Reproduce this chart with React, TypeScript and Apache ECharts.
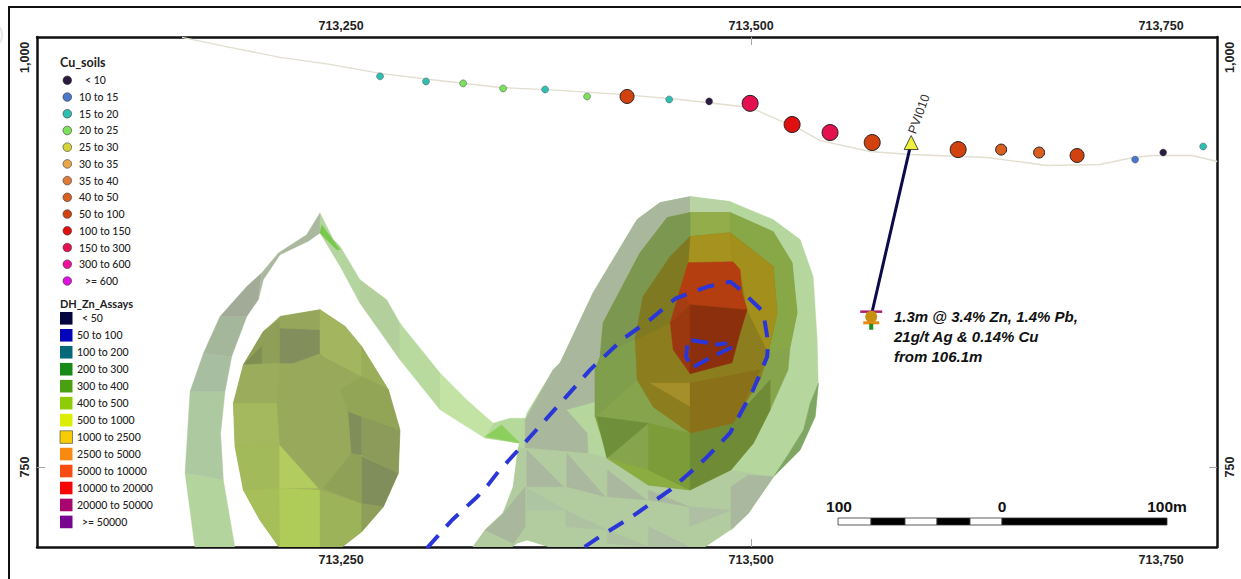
import React, { useEffect, useRef } from "react";
import * as echarts from "echarts";

// Map grid: axes are mine-grid easting / RL. Shapes below are read in a local grid (easting - offset).
const EAST_OFFSET = 712990.8;
const EAST_SCALE = 1.0197;
const xMin = 713064.6;
const xMax = 713784.1;
const yMin = 701.2;
const yMax = 1012.4;
const xTicks = [713250, 713500, 713750];
const yTicks = [750, 1000];
const xMarkedTicks = [713500];
const yMarkedTicks = [750];

const cuClasses = ["< 10", "10 to 15", "15 to 20", "20 to 25", "25 to 30", "30 to 35", "35 to 40", "40 to 50", "50 to 100", "100 to 150", "150 to 300", "300 to 600", ">= 600"];
const cuBreaks = [10, 15, 20, 25, 30, 35, 40, 50, 100, 150, 300, 600];
const cuColors = ["#2a1a3e", "#4a77c9", "#2fbfb0", "#7de05a", "#d4d43a", "#e8a84a", "#dd7a3a", "#d95f20", "#d2420e", "#e01010", "#e5104f", "#f010a0", "#e010e0"];
const znClasses = ["< 50", "50 to 100", "100 to 200", "200 to 300", "300 to 400", "400 to 500", "500 to 1000", "1000 to 2500", "2500 to 5000", "5000 to 10000", "10000 to 20000", "20000 to 50000", ">= 50000"];
const znColors = ["#04043f", "#0404b8", "#05697a", "#188a18", "#4aa010", "#8fcc05", "#dcee05", "#f8cc05", "#f88a10", "#f84c10", "#f80505", "#a8056e", "#78058f"];

const soilEast = [277.5, 305, 327.2, 351.1, 376.2, 401.3, 425.2, 450.4, 474.3, 498.8, 523.9, 546.6, 571.8, 623.2, 648.9, 671.6, 694.3, 729, 745.8, 769.7];
const soilNorth = [988.4, 985.3, 984.1, 981, 980.4, 976.1, 976.1, 974.3, 973.1, 971.9, 959, 954.1, 948, 943.7, 943.7, 941.9, 940.1, 937.6, 941.9, 945.6];
const soilCu = [17, 17, 22, 22, 17, 22, 65, 17, 8, 200, 120, 220, 85, 80, 45, 42, 65, 12, 7, 17];

const surface = [[159.1, 1012.2], [187.8, 1006.1], [217.7, 1000], [247.6, 995.7], [277.5, 990.2], [307.4, 986.5], [349.3, 981.6], [385.2, 979.8], [421.1, 977.4], [456.9, 974.3], [498.8, 969.4], [528.7, 956], [540.7, 949.2], [570.6, 942.5], [594.5, 940.7], [640.5, 938.9], [676.4, 934], [708.1, 934.6], [727.8, 938.9], [739.8, 940.1], [763.1, 940.1], [778.1, 936.4]];

const holeTrace = [[595.1, 948], [571.2, 842.3]];
const holeIntervals = [[571.2, 844.8, 11], [571.2, 841.7, 7], [571.2, 838, 8], [571.2, 835.6, 3]];

const outerDomain = [[305.6, 700.6], [320.6, 717.7], [335.5, 731.7], [342.1, 739.1], [348.1, 747], [361.3, 761.7], [388.2, 792.2], [403.1, 809.3], [422.9, 828.3], [439, 839.9], [454, 852.7], [473.1, 860], [486.8, 863.1], [491.6, 859.4], [506.6, 844.8], [509.6, 825.8], [509, 817.3], [500.6, 797.1], [486.8, 770.8], [473.1, 756.2], [464.7, 748.2], [451, 736], [427, 718.9], [410.3, 708.5], [398.9, 700.6]];
const innerDomain = [[473.7, 825.8], [461.7, 827.7], [460.5, 817.3], [464.1, 810.6], [474.9, 816.7], [488.6, 823.4], [486.8, 825.8], [477.9, 824.6]];

const ribbonPolys = [
  [[166.9, 700.3], [160.9, 746.2], [183.8, 742.1], [190.8, 700.3]],
  [[160.9, 746.2], [163.9, 796.1], [184.8, 796.1], [182.2, 770.6], [183.8, 742.1]],
  [[163.9, 796.1], [171.9, 819.5], [188.8, 817.5], [184.8, 796.1]],
  [[171.9, 819.5], [181.8, 841.9], [197.8, 841.9], [188.8, 817.5]],
  [[181.8, 841.9], [197.8, 860.2], [206.7, 868.4], [204.7, 852.1], [197.8, 841.9]],
  [[206.7, 868.4], [216.7, 880.6], [233.6, 891.8], [241.6, 905], [241.6, 892.8], [234.6, 887.7], [217.7, 879.6], [207.7, 864.3], [204.7, 852.1]],
  [[241.6, 905], [249.6, 888.8], [253.6, 884.7], [265.5, 864.3], [265.5, 850], [253.6, 872.5], [241.6, 892.8]],
  [[265.5, 864.3], [281.5, 852.1], [289.4, 837.8], [289.4, 815.4], [265.5, 850]],
  [[289.4, 837.8], [313.4, 807.3], [313.4, 784.9], [289.4, 815.4]],
  [[313.4, 807.3], [329.3, 791], [345.2, 776.7], [340.3, 767.6], [313.4, 784.9]],
  [[340.3, 767.6], [345.2, 776.7], [355.2, 779.8], [365.2, 779.8], [365.2, 766.5], [361.2, 764.5]],
  [[340.3, 768.6], [350.2, 775.7], [361.2, 764.5]],
  [[242.6, 897.9], [253.6, 882.6], [251.6, 882.6], [241.6, 892.8]],
];
const ribbonColors = ["#b3d49d", "#adc9a0", "#a7bea0", "#a4b79a", "#a2ab98", "#abb8a0", "#b5d5a0", "#b3d09c", "#b9da9e", "#c3e3a5", "#b5d99a", "#8ccf5c", "#78c84a"];

const ellipsePolys = [
  [[241.6, 846], [256.6, 835.8], [266.5, 823.6], [282.5, 797.1], [289.4, 772.6], [288.4, 746.2], [279.5, 725.8], [266.5, 710.5], [253.6, 700.3], [217.7, 700.3], [205.7, 717.6], [195.8, 736], [190.8, 762.5], [189.8, 788.9], [195.8, 812.4], [207.7, 832.7], [217.7, 841.9]],
  [[217.3, 834.8], [241.6, 833.8], [241.6, 819.5], [225.7, 813.4], [217.3, 813.4]],
  [[217.7, 841.9], [241.6, 846], [241.6, 833.8], [217.3, 834.8]],
  [[195.8, 812.4], [207.7, 832.7], [217.3, 839.9], [217.3, 813.4], [206.7, 812.4]],
  [[195.8, 812.4], [206.7, 823.6], [206.7, 812.4]],
  [[189.8, 788.9], [195.8, 812.4], [217.3, 813.4], [215.7, 788.9]],
  [[190.8, 762.5], [189.8, 788.9], [215.7, 788.9], [217.3, 763.5]],
  [[195.8, 736], [190.8, 762.5], [217.3, 763.5], [217.3, 737]],
  [[195.8, 736], [217.3, 737], [217.7, 700.3], [205.7, 717.6]],
  [[217.3, 737], [241.6, 736], [241.6, 700.3], [217.7, 700.3]],
  [[217.3, 763.5], [240.6, 737], [217.3, 737]],
  [[241.6, 736], [266.5, 727.8], [266.5, 710.5], [253.6, 700.3], [241.6, 700.3]],
  [[266.5, 756.4], [288.4, 746.2], [279.5, 725.8], [266.5, 727.8]],
  [[266.5, 727.8], [279.5, 725.8], [266.5, 710.5]],
  [[243.6, 737], [260.5, 758.4], [266.5, 756.4], [266.5, 727.8]],
  [[258.5, 783.9], [266.5, 780.8], [266.5, 757.4], [260.5, 758.4]],
  [[266.5, 780.8], [289.4, 772.6], [288.4, 746.2], [266.5, 757.4]],
  [[241.6, 846], [256.6, 835.8], [266.5, 823.6], [266.5, 805.2], [243.6, 817.5], [241.6, 819.5]],
  [[266.5, 823.6], [282.5, 797.1], [266.5, 805.2]],
  [[266.5, 805.2], [282.5, 797.1], [289.4, 772.6], [266.5, 780.8], [258.5, 783.9], [253.6, 797.1]],
];
const ellipseColors = ["#98a95c", "#828f5c", "#96a65a", "#8f9f58", "#7f8e52", "#9bad5c", "#a4b95d", "#a3ba5a", "#a6bf58", "#b0cc58", "#b3cc5f", "#9cb35a", "#7f8e5a", "#8f9e58", "#8fa157", "#7f8e5a", "#8c9a5a", "#a3b55e", "#9aad58", "#92a556"];

const shellPolys = [
  [[360.1, 761.7], [364.3, 778.8], [365.4, 783.1], [381, 809.3], [385.2, 813.6], [404.9, 856.4], [431.2, 901], [445, 911.4], [462.9, 915], [486.8, 912], [512.6, 901], [528.7, 888.8], [536.5, 866.2], [538.9, 827.7], [539.5, 801.4], [537.7, 780.6], [528.7, 760.4], [512.6, 744], [497.6, 722], [486.8, 711.6], [470.7, 700.6], [381, 700.6], [365.4, 705.5], [359.5, 703.6], [355.3, 700.6], [332.6, 700.6], [340.3, 711.6], [351.1, 722], [357.1, 737.8]],
  [[360.1, 761.7], [401.9, 758.6], [413.9, 755.6], [437.8, 739.1], [462.9, 736], [486.8, 748.2], [512.6, 744], [497.6, 722], [486.8, 711.6], [470.7, 700.6], [381, 700.6], [365.4, 705.5], [359.5, 703.6], [355.3, 700.6], [332.6, 700.6], [340.3, 711.6], [351.1, 722], [357.1, 737.8]],
  [[364.3, 778.8], [381, 809.3], [385.2, 813.6], [404.9, 856.4], [431.2, 901], [445, 911.4], [462.9, 915], [462.9, 905.3], [449.2, 902.2], [433, 880.8], [410.9, 838], [409.1, 817.3], [406.1, 809.3], [406.1, 789.8], [388.8, 784.9], [401.3, 770.8], [401.9, 758.6], [364.3, 761.7]],
  [[462.9, 915], [486.8, 912], [486.8, 905.3], [462.9, 905.3]],
  [[365.3, 760.4], [387.2, 738], [365.3, 738]],
  [[389.2, 758.4], [412.1, 731.9], [389.2, 738]],
  [[413.5, 748.2], [437, 729.9], [413.5, 731.9]],
  [[438, 736], [462.5, 725.8], [438, 729.9]],
  [[365.3, 737], [388.6, 723.7], [365.3, 723.7]],
  [[388.6, 723.7], [413.5, 711.5], [388.6, 713.6]],
  [[340.4, 711.5], [351.3, 721.7], [364.3, 738], [364.3, 713.6], [357.3, 703.4]],
  [[487.4, 738], [497.8, 745.1], [512.8, 744], [497.8, 721.7], [487.4, 711.5]],
  [[462.5, 725.8], [487.4, 723.7], [462.5, 713.6]],
  [[413.5, 711.5], [438, 701.3], [413.5, 703.4]],
  [[438, 713.6], [462.5, 701.3], [438, 701.3]],
  [[539.7, 801.2], [537.7, 780.8], [528.7, 760.4], [512.8, 744.1], [520.7, 756.3], [530.7, 772.6], [534.7, 788.9]],
];
const shellColors = ["#b5d69d", "#b2cca0", "#a9b79d", "#b9d3a5", "#a9b89e", "#a9b89e", "#a9b89e", "#a9b89e", "#aec5a3", "#aec2a2", "#a9b79d", "#a9b89e", "#aebfa3", "#aec2a2", "#aebfa3", "#7fa662"];

const middlePolys = [
  [[449.2, 902.2], [462.9, 905.3], [486.8, 905.3], [512.6, 893.6], [523.9, 874.7], [526.9, 844.2], [522.7, 823.4], [521.5, 809.3], [510.8, 784.9], [500.6, 764.7], [486.8, 748.2], [462.9, 736], [437.8, 739.1], [413.9, 755.6], [406.1, 780.6], [406.1, 809.3], [409.1, 817.3], [410.9, 838], [433, 880.8]],
  [[462.9, 905.3], [486.8, 905.3], [486.8, 893], [462.9, 890.6]],
  [[410.9, 838], [433, 880.8], [449.2, 902.2], [462.9, 905.3], [462.9, 890.6], [451, 878.4], [434.8, 853.9], [430, 827.7], [409.1, 817.3]],
  [[409.1, 817.3], [430, 827.7], [431.2, 803.2], [406.1, 780.6], [406.1, 809.3]],
  [[407.1, 780.8], [438, 776.7], [413.1, 755.3]],
  [[413.1, 755.3], [438, 748.2], [462.9, 736], [438, 739]],
  [[438, 776.7], [462.9, 770.6], [462.9, 736], [438, 748.2]],
  [[462.9, 770.6], [490.8, 780.8], [510.8, 803.2], [510.8, 784.9], [500.8, 764.5], [487.4, 748.2], [462.9, 736]],
  [[486.8, 905.3], [512.6, 893.6], [523.9, 874.7], [526.9, 844.2], [522.7, 823.4], [509.6, 819.7], [514.9, 844.2], [512.6, 872.3], [486.8, 893]],
];
const middleColors = ["#86a44c", "#92ad4a", "#7b9750", "#7f9f4c", "#6f8f3a", "#8aac40", "#7c9c3a", "#6f8b35", "#88a847"];

const innerPolys = [
  [[462.9, 890.6], [486.8, 893], [512.6, 872.3], [514.9, 844.2], [509.6, 819.7], [504.8, 803.2], [488.6, 776.9], [462.9, 770.8], [440.8, 786.7], [431.2, 803.2], [430, 827.7], [434.8, 853.9], [451, 878.4]],
  [[462.9, 890.6], [486.8, 893], [488.6, 875.3], [461.7, 874.7]],
  [[434.8, 853.9], [451, 878.4], [462.9, 890.6], [461.7, 874.7], [456.9, 858.2], [451, 838], [430, 827.7]],
  [[486.8, 893], [512.6, 872.3], [514.9, 844.2], [509.6, 819.7], [497, 846], [492.8, 870.4], [488.6, 875.3]],
  [[439, 801.2], [462.9, 786.9], [462.9, 801.2]],
  [[462.9, 801.2], [504.8, 809.3], [488.8, 776.9], [462.9, 770.8]],
];
const innerColors = ["#8c7d1f", "#a5921f", "#7f7a22", "#a38f1c", "#a58f2a", "#8a7018"];

const corePolys = [
  [[461.7, 874.7], [488.6, 875.3], [492.8, 870.4], [494, 856.4], [497, 846], [462.9, 849], [456.9, 858.2]],
  [[456.9, 858.2], [462.9, 849], [451, 838]],
  [[451, 838], [462.9, 849], [462.9, 806.9], [452.8, 821.5]],
  [[462.9, 849], [497, 846], [492.8, 831.9], [488, 813.6], [462.9, 806.9]],
];
const coreColors = ["#b43e10", "#a53c12", "#9c3810", "#8c2f0c"];

const allPolys = [...ribbonPolys, ...ellipsePolys, ...shellPolys, ...middlePolys, ...innerPolys, ...corePolys];
const allColors = [...ribbonColors, ...ellipseColors, ...shellColors, ...middleColors, ...innerColors, ...coreColors];

const intercept = ["1.3m @ 3.4% Zn, 1.4% Pb,", "21g/t Ag & 0.14% Cu", "from 106.1m"];
const holeName = "PVI010";
const scaleLabels = ["100", "0", "100m"];

const toEast = (v: number) => EAST_OFFSET + EAST_SCALE * v;
const toPoint = (p: number[]) => [toEast(p[0]), p[1]];
const cuIndex = (v: number) => {
  const i = cuBreaks.findIndex((b) => v < b);
  return i < 0 ? cuColors.length - 1 : i;
};
const cuSize = (v: number) => (v < 30 ? 7 : v < 50 ? 11 : v < 70 ? 14 : 16);
const ARIAL = '"Liberation Sans", Arial, sans-serif';
const LEGEND_FONT = 'Lato, "Open Sans", sans-serif';

function legendGraphics(): any[] {
  const out: any[] = [];
  const txt = (x: number, y: number, text: string, size: number, weight: any = 500) => ({
    type: "text",
    z: 100,
    style: { x, y, text, fill: "#222", font: `${weight} ${size}px ${LEGEND_FONT}`, textVerticalAlign: "middle" },
  });
  out.push(txt(60, 62, "Cu_soils", 12.5, 700));
  cuClasses.forEach((name, i) => {
    const y = 80.3 + i * 16.72;
    out.push({ type: "circle", z: 100, shape: { cx: 67.3, cy: y, r: 4.3 }, style: { fill: cuColors[i], stroke: "#333", lineWidth: 0.6 } });
    out.push(txt(name.startsWith("<") || name.startsWith(">") ? 85 : 79, y, name, 10.5));
  });
  out.push(txt(60, 303, "DH_Zn_Assays", 11, 700));
  znClasses.forEach((name, i) => {
    const y = 318.3 + i * 16.97;
    out.push({ type: "rect", z: 100, shape: { x: 60, y: y - 6.3, width: 12.5, height: 12.6 }, style: { fill: znColors[i], stroke: i === 7 ? "#555" : undefined, lineWidth: 0.7 } });
    out.push(txt(name.startsWith("<") || name.startsWith(">") ? 82 : 77, y, name, 10.5));
  });
  return out;
}

function scaleBarGraphics(): any[] {
  const edges = [838, 871, 905, 937, 970, 1002, 1167];
  const out: any[] = [];
  edges.slice(0, -1).forEach((x, i) => {
    out.push({
      type: "rect",
      z: 100,
      shape: { x, y: 518, width: edges[i + 1] - x, height: 7 },
      style: { fill: i % 2 === 0 && i < 5 ? "#fff" : "#000", stroke: "#333", lineWidth: 0.8 },
    });
  });
  [839, 1002, 1167].forEach((x, i) => {
    out.push({
      type: "text",
      z: 100,
      style: { x, y: 506, text: scaleLabels[i], fill: "#111", font: `bold 15.5px ${ARIAL}`, textAlign: "center", textVerticalAlign: "middle" },
    });
  });
  return out;
}

export default function App() {
  const ref = useRef<HTMLDivElement>(null);
  useEffect(() => {
    const chart = echarts.init(ref.current!, undefined, { renderer: "svg" });
    const labelStyle = { color: "#222", fontSize: 12.5, fontWeight: "bold" as const, fontFamily: ARIAL };
    const fmt = (v: number) => Number(v).toLocaleString("en-US");
    const line = { onZero: false, lineStyle: { color: "#111", width: 2.5 } };
    const tick = { inside: true, length: 8, lineStyle: { color: "#a5a5a5", width: 1 } };
    const xBase = { type: "value", min: xMin, max: xMax, splitLine: { show: false }, axisLine: line };
    const yBase = { type: "value", min: yMin, max: yMax, splitLine: { show: false }, axisLine: line };
    chart.setOption({
      animation: false,
      backgroundColor: "#fff",
      grid: { left: 37, right: 24, top: 37, bottom: 32, containLabel: false },
      xAxis: [
        { ...xBase, position: "bottom", axisTick: { ...tick, customValues: xMarkedTicks }, axisLabel: { ...labelStyle, margin: 6, customValues: xTicks, formatter: fmt } },
        { ...xBase, position: "top", axisTick: { ...tick, customValues: xMarkedTicks }, axisLabel: { ...labelStyle, margin: 5, customValues: xTicks, formatter: fmt } },
      ],
      yAxis: [
        { ...yBase, position: "left", axisTick: { ...tick, customValues: yMarkedTicks }, axisLabel: { ...labelStyle, margin: 6, rotate: 90, customValues: yTicks, formatter: fmt } },
        { ...yBase, position: "right", axisTick: { ...tick, customValues: yMarkedTicks }, axisLabel: { ...labelStyle, margin: 6, rotate: 90, customValues: yTicks, formatter: fmt } },
      ],
      series: [
        {
          type: "custom",
          name: "Solids",
          clip: true,
          z: 2,
          data: allPolys.map((p, i) => [toEast(p[0][0]), p[0][1], i]),
          renderItem: (params: any, api: any) => {
            const i = params.dataIndex;
            return {
              type: "polygon",
              shape: { points: allPolys[i].map((p) => api.coord(toPoint(p))) },
              style: { fill: allColors[i], stroke: allColors[i], lineWidth: 0.4 },
            };
          },
        },
        { type: "line", name: "Surface", z: 3, clip: true, symbol: "none", data: surface.map(toPoint), lineStyle: { color: "#e2ded0", width: 1.4 } },
        { type: "line", name: "Outer domain", z: 4, clip: true, symbol: "none", data: outerDomain.map(toPoint), lineStyle: { color: "#2a36d8", width: 4, type: [17, 12] } },
        { type: "line", name: "Inner domain", z: 4, clip: true, symbol: "none", data: innerDomain.map(toPoint), lineStyle: { color: "#2a36d8", width: 4, type: [17, 9] } },
        {
          type: "scatter",
          name: "Cu_soils",
          z: 5,
          data: soilEast.map((e, i) => ({
            value: [toEast(e), soilNorth[i]],
            symbolSize: cuSize(soilCu[i]),
            itemStyle: { opacity: 1, color: cuColors[cuIndex(soilCu[i])], borderColor: soilCu[i] < 30 ? "#556" : "#222", borderWidth: soilCu[i] < 30 ? 0.5 : 1 },
          })),
        },
        { type: "line", name: "Hole", z: 6, symbol: "none", data: holeTrace.map(toPoint), lineStyle: { color: "#0b0b4a", width: 3 } },
        {
          type: "scatter",
          name: "Collar",
          z: 7,
          symbol: "triangle",
          symbolSize: 14,
          data: [toPoint(holeTrace[0])],
          itemStyle: { opacity: 1, color: "#eef03e", borderColor: "#222", borderWidth: 0.8 },
        },
        {
          type: "scatter",
          name: "DH_Zn_Assays",
          z: 7,
          data: holeIntervals.map((p, i) => ({
            value: toPoint(p),
            symbol: i === 1 ? "circle" : "rect",
            symbolSize: i === 1 ? 12 : i === 0 ? [22, 2.5] : i === 2 ? [16, 3] : [4, 6],
            itemStyle: { opacity: 1, color: ["#a8206e", "#c8900f", "#e88a10", "#1f8f1f"][i] },
          })),
        },
      ],
      graphic: [
        { type: "polyline", z: 100, shape: { points: [[9, 579], [9, 7], [1241, 7]] }, style: { stroke: "#111", lineWidth: 2, fill: "none" } },
        { type: "circle", z: 100, shape: { cx: -11, cy: 35, r: 13 }, style: { stroke: "#e6e6e6", lineWidth: 2, fill: "none" } },
        ...legendGraphics(),
        ...scaleBarGraphics(),
        ...intercept.map((t, i) => ({
          type: "text",
          z: 100,
          style: { x: 894, y: 316 + i * 20, text: t, fill: "#111", font: `italic bold 15px ${ARIAL}`, textVerticalAlign: "middle" },
        })),
        {
          type: "text",
          z: 100,
          x: 919,
          y: 114,
          rotation: (70 * Math.PI) / 180,
          style: { x: 0, y: 0, text: holeName, fill: "#333", font: `12.5px ${ARIAL}`, textAlign: "center", textVerticalAlign: "middle" },
        },
      ],
    });
    return () => chart.dispose();
  }, []);
  return <div ref={ref} style={{ position: "fixed", left: 0, top: 0, width: 1241, height: 579 }} />;
}
